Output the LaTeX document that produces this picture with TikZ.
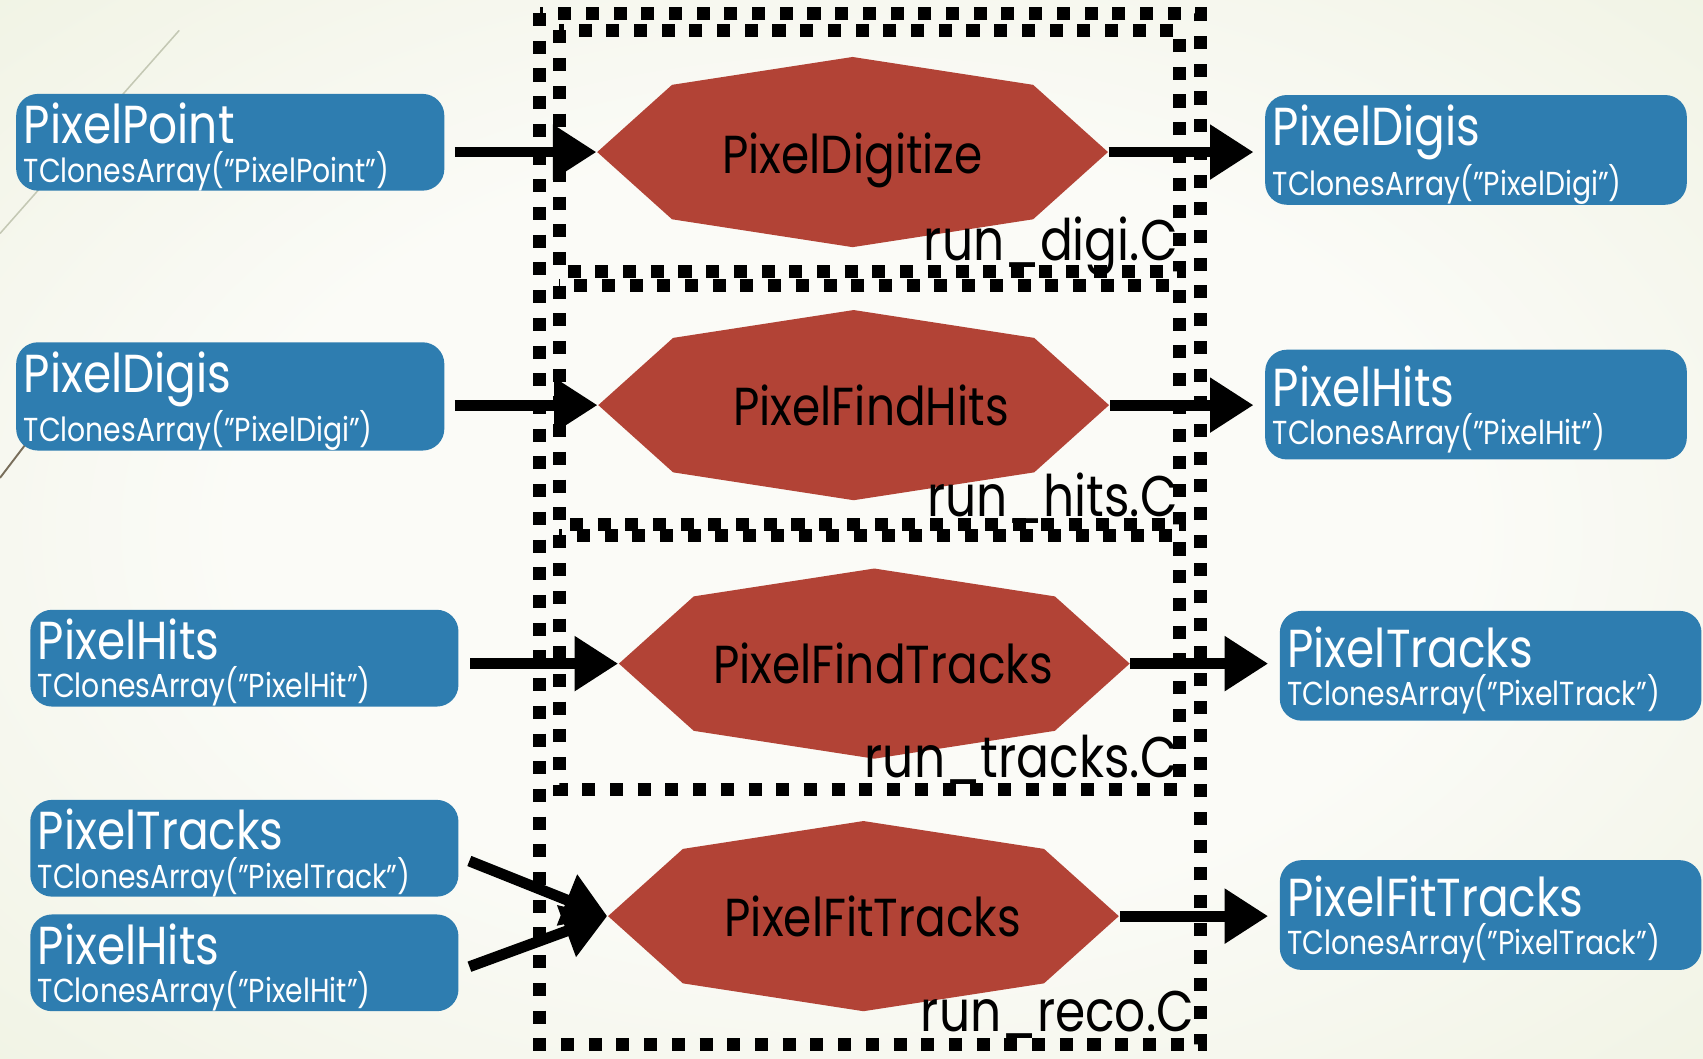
\documentclass[tikz,border=0pt]{standalone}
\usepackage{fontspec}
\setmainfont{Poppins}[FakeStretch=0.85]
\usetikzlibrary{arrows.meta,calc}

\definecolor{bgin}{RGB}{251,251,247}
\definecolor{bgout}{RGB}{226,232,202}
\definecolor{boxblue}{RGB}{46,125,176}
\definecolor{octred}{RGB}{178,67,54}
\definecolor{decoline}{RGB}{196,200,180}
\definecolor{decodark}{RGB}{120,110,90}

\pgfdeclareradialshading{slidebg}{\pgfpoint{0bp}{0bp}}{color(0bp)=(bgin); color(18bp)=(bgin); color(62bp)=(bgout); color(72bp)=(bgout)}

\newcommand{\boxtitle}{\fontsize{14}{14}\selectfont\rule{0pt}{0.46cm}}
\newcommand{\boxsub}{\fontsize{8.7}{10}\selectfont}
\def\ppbb{path picture bounding box}

\tikzset{
  databox/.style={rounded corners=0.2cm, fill=boxblue, text=white, align=left,
    inner xsep=0.07cm, inner ysep=0pt, font=\boxsub},
  leftbox/.style={databox, minimum width=3.94cm, text width=3.80cm, minimum height=0.86cm},
  rightbox/.style={databox, minimum width=3.88cm, text width=3.74cm, minimum height=1.01cm},
  procbox/.style={minimum width=4.7cm, minimum height=1.75cm, inner sep=0pt,
    font=\fontsize{14}{16}\selectfont,
    path picture={\fill[octred] (\ppbb.west)
      -- ($(\ppbb.center)!0.707!(\ppbb.north west)$) -- (\ppbb.north)
      -- ($(\ppbb.center)!0.707!(\ppbb.north east)$) -- (\ppbb.east)
      -- ($(\ppbb.center)!0.707!(\ppbb.south east)$) -- (\ppbb.south)
      -- ($(\ppbb.center)!0.707!(\ppbb.south west)$) -- cycle;}},
  runlabel/.style={font=\fontsize{15}{18}\selectfont, anchor=base east, inner sep=0pt},
  dotbox/.style={line width=0.12cm, dash pattern=on 0.12cm off 0.135cm},
  flow/.style={line width=0.1cm, -{Triangle[length=0.4cm,width=0.48cm]}}
}

\begin{document}
\begin{tikzpicture}[x=0.01cm, y=-0.01cm]
  % Slide background
  \useasboundingbox (0,0) rectangle (1568,975);
  \shade[shading=slidebg] (0,0) rectangle (1568,975);
  \draw[decoline, line width=0.4pt] (165,28) -- (0,215);
  \draw[decodark, line width=0.5pt] (0,440) -- (32,398);

  % Macro boxes
  \draw[dotbox] (497,12) rectangle (1105,962);
  \draw[dotbox] (515,28) rectangle (1086,250);
  \draw[dotbox] (515,263) rectangle (1086,483);
  \draw[dotbox] (515,493) rectangle (1086,727);

  % Tasks
  \node[procbox] (digi) at (785,140) {\raisebox{-0.2cm}[0pt][0pt]{PixelDigitize}};
  \node[procbox] (hits) at (786,373) {\hspace*{0.32cm}PixelFindHits};
  \node[procbox] (tracks) at (805,611) {\hspace*{0.16cm}PixelFindTracks};
  \node[procbox] (fit) at (795,843.5) {\hspace*{0.17cm}PixelFitTracks};

  % Macro names
  \node[runlabel] (rdigi) at (1085,240) {run\_digi.C};
  \node[runlabel] (rhits) at (1085,476) {run\_hits.C};
  \node[runlabel] (rtracks) at (1085,716) {run\_tracks.C};
  \node[runlabel] (rreco) at (1100,950) {run\_reco.C};

  % Inputs
  \node[leftbox] (inpoint) at (212,131) {{\boxtitle PixelPoint}\\TClonesArray(”PixelPoint”)};
  \node[leftbox] (indigis) at (212,365) {{\boxtitle PixelDigis}\\TClonesArray(”PixelDigi”)};
  \node[leftbox] (inhits) at (225,606) {{\boxtitle PixelHits}\\TClonesArray(”PixelHit”)};
  \node[leftbox] (intracks) at (225,781) {{\boxtitle PixelTracks}\\TClonesArray(”PixelTrack”)};
  \node[leftbox] (inhitsb) at (225,886.5) {{\boxtitle PixelHits}\\TClonesArray(”PixelHit”)};

  % Outputs
  \node[rightbox] (outdigis) at (1359,138) {{\boxtitle PixelDigis}\\TClonesArray(”PixelDigi”)};
  \node[rightbox] (outhits) at (1359,372.5) {{\boxtitle PixelHits}\\TClonesArray(”PixelHit”)};
  \node[rightbox] (outtracks) at (1372.5,613) {{\boxtitle PixelTracks}\\TClonesArray(”PixelTrack”)};
  \node[rightbox] (outfit) at (1372.5,842.5) {{\boxtitle PixelFitTracks}\\TClonesArray(”PixelTrack”)};

  % Data flow
  \draw[flow, shorten <=0.09cm] (inpoint.east |- digi.west) -- (digi.west);
  \draw[flow, shorten <=0.09cm] (indigis.east |- hits.west) -- (hits.west);
  \draw[flow, shorten <=0.1cm] (inhits.east |- tracks.west) -- (tracks.west);
  \draw[flow, shorten <=0.1cm] ([yshift=-0.08cm]intracks.east) -- (fit.west);
  \draw[flow, shorten <=0.1cm] ([yshift=-0.07cm]inhitsb.east) -- (fit.west);
  \draw[flow, shorten >=0.1cm] (digi.east) -- (digi.east -| outdigis.west);
  \draw[flow, shorten >=0.1cm] (hits.east) -- (hits.east -| outhits.west);
  \draw[flow, shorten >=0.1cm] (tracks.east) -- (tracks.east -| outtracks.west);
  \draw[flow, shorten >=0.1cm] (fit.east) -- (fit.east -| outfit.west);
\end{tikzpicture}
\end{document}
